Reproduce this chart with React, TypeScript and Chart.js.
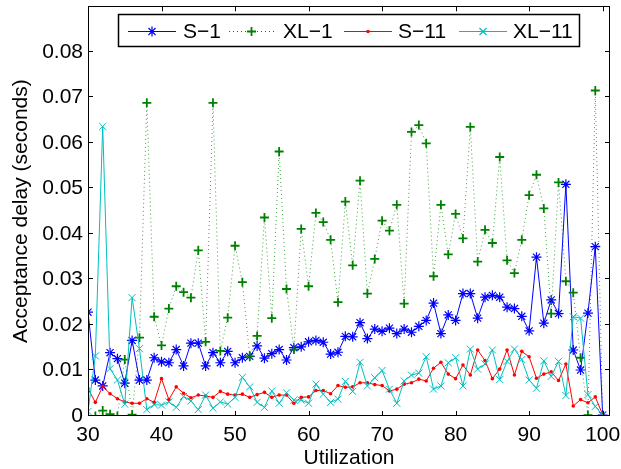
import React, { useEffect, useRef } from 'react';
import { Chart, registerables } from 'chart.js';

Chart.register(...registerables);

const utilization = [
  30, 31, 32, 33, 34, 35, 36, 37, 38, 39,
  40, 41, 42, 43, 44, 45, 46, 47, 48, 49,
  50, 51, 52, 53, 54, 55, 56, 57, 58, 59,
  60, 61, 62, 63, 64, 65, 66, 67, 68, 69,
  70, 71, 72, 73, 74, 75, 76, 77, 78, 79,
  80, 81, 82, 83, 84, 85, 86, 87, 88, 89,
  90, 91, 92, 93, 94, 95, 96, 97, 98, 99,
  100,
];

const s1 = [
  0.0228, 0.0079, 0.0066, 0.0139, 0.0126, 0.0072, 0.0166, 0.0079, 0.0079, 0.0128,
  0.0119, 0.0117, 0.0146, 0.0110, 0.0160, 0.0160, 0.0110, 0.0139, 0.0117, 0.0142,
  0.0117, 0.0128, 0.0131, 0.0154, 0.0127, 0.0137, 0.0146, 0.0123, 0.0150, 0.0152,
  0.0163, 0.0166, 0.0162, 0.0136, 0.0140, 0.0175, 0.0174, 0.0205, 0.0170, 0.0191,
  0.0186, 0.0193, 0.0181, 0.0191, 0.0184, 0.0197, 0.0210, 0.0248, 0.0181, 0.0222,
  0.0210, 0.0269, 0.0269, 0.0215, 0.0261, 0.0265, 0.0261, 0.0239, 0.0236, 0.0219,
  0.0187, 0.0349, 0.0204, 0.0255, 0.0225, 0.0509, 0.0145, 0.0101, 0.0226, 0.0372,
  0.0002,
];

const xl1 = [
  0.0000, 0.0000, 0.0012, 0.0004, 0.0000, 0.0124, 0.0003, 0.0172, 0.0688, 0.0218,
  0.0155, 0.0236, 0.0285, 0.0272, 0.0260, 0.0364, 0.0163, 0.0688, 0.0143, 0.0216,
  0.0374, 0.0294, 0.0131, 0.0176, 0.0436, 0.0215, 0.0581, 0.0279, 0.0146, 0.0411,
  0.0285, 0.0446, 0.0426, 0.0387, 0.0250, 0.0471, 0.0331, 0.0517, 0.0269, 0.0345,
  0.0429, 0.0407, 0.0464, 0.0247, 0.0624, 0.0639, 0.0599, 0.0307, 0.0464, 0.0355,
  0.0444, 0.0390, 0.0635, 0.0339, 0.0409, 0.0380, 0.0569, 0.0342, 0.0314, 0.0387,
  0.0485, 0.0530, 0.0456, 0.0225, 0.0513, 0.0296, 0.0271, 0.0128, 0.0002, 0.0715,
  0.0000,
];

const s11 = [
  0.0060, 0.0030, 0.0065, 0.0049, 0.0038, 0.0031, 0.0028, 0.0028, 0.0038, 0.0030,
  0.0082, 0.0036, 0.0064, 0.0050, 0.0040, 0.0046, 0.0044, 0.0041, 0.0054, 0.0048,
  0.0046, 0.0048, 0.0041, 0.0047, 0.0052, 0.0041, 0.0046, 0.0046, 0.0028, 0.0041,
  0.0042, 0.0056, 0.0056, 0.0049, 0.0067, 0.0063, 0.0064, 0.0073, 0.0073, 0.0069,
  0.0067, 0.0055, 0.0059, 0.0070, 0.0073, 0.0081, 0.0077, 0.0105, 0.0118, 0.0092,
  0.0082, 0.0112, 0.0090, 0.0145, 0.0122, 0.0082, 0.0103, 0.0145, 0.0090, 0.0142,
  0.0130, 0.0083, 0.0092, 0.0097, 0.0078, 0.0114, 0.0022, 0.0036, 0.0029, 0.0042,
  0.0003,
];

const xl11 = [
  0.0010, 0.0132, 0.0636, 0.0104, 0.0079, 0.0026, 0.0260, 0.0148, 0.0014, 0.0025,
  0.0024, 0.0031, 0.0019, 0.0043, 0.0033, 0.0014, 0.0046, 0.0017, 0.0031, 0.0026,
  0.0041, 0.0085, 0.0064, 0.0030, 0.0019, 0.0055, 0.0028, 0.0051, 0.0035, 0.0035,
  0.0028, 0.0070, 0.0048, 0.0030, 0.0037, 0.0076, 0.0054, 0.0118, 0.0066, 0.0084,
  0.0100, 0.0059, 0.0028, 0.0077, 0.0090, 0.0094, 0.0130, 0.0059, 0.0066, 0.0117,
  0.0128, 0.0066, 0.0147, 0.0103, 0.0114, 0.0145, 0.0080, 0.0120, 0.0147, 0.0124,
  0.0079, 0.0061, 0.0121, 0.0087, 0.0120, 0.0045, 0.0218, 0.0215, 0.0047, 0.0021,
  0.0002,
];

const xTicks = [30, 40, 50, 60, 70, 80, 90, 100];
const yTicks = [0, 0.01, 0.02, 0.03, 0.04, 0.05, 0.06, 0.07, 0.08];
const seriesLabels = ['S\u22121', 'XL\u22121', 'S\u221211', 'XL\u221211'];

const BLUE = 'rgb(0,0,255)';
const GREEN = 'rgb(0,128,0)';
const RED = 'rgb(255,0,0)';
const CYAN = 'rgb(0,191,191)';
const FONT = '"Liberation Sans", Arial, Helvetica, sans-serif';

const toPoints = (ys: number[]) => utilization.map((x, i) => ({ x, y: ys[i] }));

function drawMarker(c: CanvasRenderingContext2D, kind: string, x: number, y: number, r: number) {
  const d = r * Math.SQRT1_2;
  c.beginPath();
  if (kind === 'star' || kind === 'cross') {
    c.moveTo(x - r, y); c.lineTo(x + r, y);
    c.moveTo(x, y - r); c.lineTo(x, y + r);
  }
  if (kind === 'star' || kind === 'crossRot') {
    c.moveTo(x - d, y - d); c.lineTo(x + d, y + d);
    c.moveTo(x - d, y + d); c.lineTo(x + d, y - d);
  }
  c.stroke();
  if (kind === 'dot') {
    c.beginPath();
    c.arc(x, y, r, 0, Math.PI * 2);
    c.fill();
  }
}

const framePlugin = {
  id: 'matlabFrame',
  afterDatasetsDraw(chart: any) {
    const c: CanvasRenderingContext2D = chart.ctx;
    const { left, right, top, bottom } = chart.chartArea;
    const xs = chart.scales.x;
    const ys = chart.scales.y;
    const tl = 5;
    c.save();
    c.strokeStyle = '#000';
    c.lineWidth = 1;
    c.strokeRect(Math.round(left) + 0.5, Math.round(top) + 0.5, Math.round(right - left) - 1, Math.round(bottom - top) - 1);
    c.beginPath();
    xTicks.forEach((v) => {
      const px = Math.round(xs.getPixelForValue(v)) + 0.5;
      c.moveTo(px, bottom); c.lineTo(px, bottom - tl);
      c.moveTo(px, top); c.lineTo(px, top + tl);
    });
    yTicks.forEach((v) => {
      const py = Math.round(ys.getPixelForValue(v)) - 0.5;
      c.moveTo(left, py); c.lineTo(left + tl, py);
      c.moveTo(right, py); c.lineTo(right - tl, py);
    });
    c.stroke();
    c.restore();
  },
  afterDraw(chart: any) {
    const c: CanvasRenderingContext2D = chart.ctx;
    c.save();
    c.fillStyle = '#fff';
    c.fillRect(118, 14, 462, 33);
    c.strokeStyle = '#000';
    c.lineWidth = 1.5;
    c.strokeRect(118.5, 14.5, 461, 32);
    const entries = [
      { x0: 128, x1: 176, tx: 183, color: BLUE, dash: [], marker: 'star', r: 5 },
      { x0: 229, x1: 274, tx: 283, color: GREEN, dash: [1, 3], marker: 'cross', r: 4.5 },
      { x0: 344, x1: 392, tx: 398, color: RED, dash: [], marker: 'dot', r: 1.8 },
      { x0: 459, x1: 507, tx: 513, color: CYAN, dash: [], marker: 'crossRot', r: 5 },
    ];
    const ly = 31;
    c.font = `21px ${FONT}`;
    c.textBaseline = 'middle';
    c.textAlign = 'left';
    entries.forEach((e, i) => {
      c.strokeStyle = e.color;
      c.fillStyle = e.color;
      c.lineWidth = 1;
      c.setLineDash(e.dash);
      c.beginPath();
      c.moveTo(e.x0, ly + 0.5); c.lineTo(e.x1, ly + 0.5);
      c.stroke();
      c.setLineDash([]);
      c.lineWidth = e.marker === 'cross' ? 1.8 : 1.2;
      drawMarker(c, e.marker, (e.x0 + e.x1) / 2, ly + 0.5, e.r);
      c.fillStyle = '#000';
      c.fillText(seriesLabels[i], e.tx, ly + 1);
    });
    c.restore();
  },
};

export default function App() {
  const ref = useRef<HTMLCanvasElement>(null);
  useEffect(() => {
    document.body.style.margin = '0';
    const canvas = ref.current;
    if (!canvas) return;
    const tickFont = { family: FONT, size: 21, lineHeight: 1 };
    const chart = new Chart(canvas, {
      type: 'line',
      data: {
        datasets: [
          {
            label: seriesLabels[0], data: toPoints(s1), order: 3,
            borderColor: BLUE, backgroundColor: BLUE, borderWidth: 1,
            pointStyle: 'star', pointRadius: 5, pointBorderWidth: 1.2, pointBorderColor: BLUE,
            tension: 0, fill: false,
          },
          {
            label: seriesLabels[1], data: toPoints(xl1), order: 2,
            borderColor: 'rgba(0,128,0,0.75)', backgroundColor: GREEN, borderWidth: 1, borderDash: [1, 3],
            pointStyle: 'cross', pointRadius: 4.5, pointBorderWidth: 1.8, pointBorderColor: GREEN,
            tension: 0, fill: false,
          },
          {
            label: seriesLabels[2], data: toPoints(s11), order: 1,
            borderColor: RED, backgroundColor: RED, borderWidth: 1,
            pointStyle: 'circle', pointRadius: 1.8, pointBorderWidth: 0, pointBackgroundColor: RED,
            tension: 0, fill: false,
          },
          {
            label: seriesLabels[3], data: toPoints(xl11), order: 0,
            borderColor: CYAN, backgroundColor: CYAN, borderWidth: 1,
            pointStyle: 'crossRot', pointRadius: 5, pointBorderWidth: 1, pointBorderColor: CYAN,
            tension: 0, fill: false,
          },
        ],
      },
      options: {
        animation: false,
        responsive: false,
        events: [],
        layout: { padding: { left: 0, right: 11, top: 5, bottom: 0 } },
        plugins: { legend: { display: false }, tooltip: { enabled: false } },
        scales: {
          x: {
            type: 'linear', min: 30, max: 101,
            afterBuildTicks: (s: any) => { s.ticks = xTicks.map((v) => ({ value: v })); },
            afterFit: (s: any) => { s.height = 53; s.paddingLeft = 0; s.paddingRight = 0; },
            grid: { display: false, drawTicks: false },
            border: { display: false },
            ticks: { font: tickFont, color: '#000', padding: 8.5, maxRotation: 0, autoSkip: false },
            title: { display: true, text: 'Utilization', color: '#000', font: tickFont, padding: { top: 0, bottom: 0.5 } },
          },
          y: {
            type: 'linear', min: 0, max: 0.09,
            afterBuildTicks: (s: any) => { s.ticks = yTicks.map((v) => ({ value: v })); },
            afterFit: (s: any) => { s.width = 88; s.paddingTop = 0; s.paddingBottom = 0; },
            grid: { display: false, drawTicks: false },
            border: { display: false },
            ticks: {
              font: tickFont, color: '#000', padding: 5, autoSkip: false,
              callback: (v: any) => (Number(v) === 0 ? '0' : Number(v).toFixed(2)),
            },
            title: { display: true, text: 'Acceptance delay (seconds)', color: '#000', font: tickFont, padding: { top: 10.5, bottom: 0 } },
          },
        },
      },
      plugins: [framePlugin],
    } as any);
    return () => chart.destroy();
  }, []);
  return (
    <div style={{ width: 621, height: 469 }}>
      <canvas ref={ref} width={621} height={469} style={{ display: 'block' }} />
    </div>
  );
}
